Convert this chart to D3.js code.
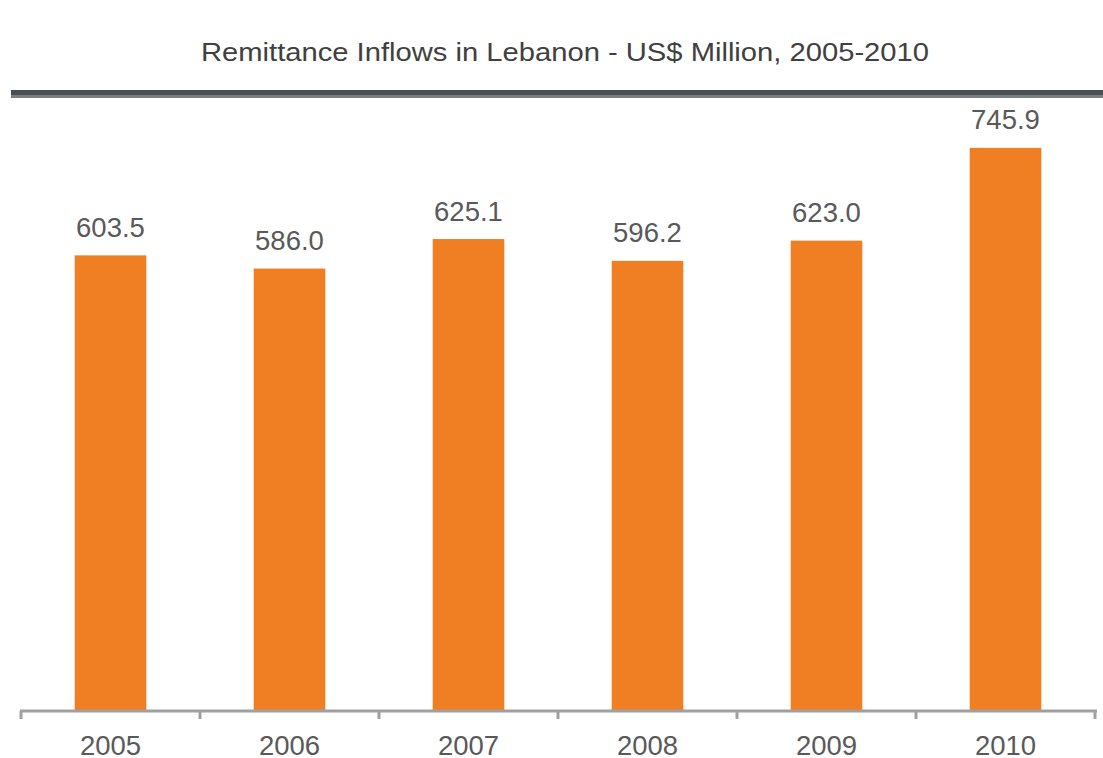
<!DOCTYPE html>
<html><head><meta charset="utf-8">
<script src="https://cdn.jsdelivr.net/npm/d3@7"></script>
<style>body{margin:0;background:#fff}svg{display:block}</style>
</head><body><svg id="c" width="1103" height="758"></svg>
<script>
const categories = ["2005","2006","2007","2008","2009","2010"];
const values = [603.5, 586.0, 625.1, 596.2, 623.0, 745.9];
const title = "Remittance Inflows in Lebanon  - US$ Million, 2005-2010";

const svg = d3.select("#c");
const font = "'Liberation Sans', Arial, sans-serif";

svg.append("text").attr("x", 565).attr("y", 61).attr("text-anchor","middle")
  .attr("font-family", font).attr("font-size", 25.5).attr("fill","#404040")
  .attr("textLength", 728).attr("lengthAdjust","spacingAndGlyphs")
  .text(title);

svg.append("rect").attr("x", 11).attr("y", 90).attr("width", 1092).attr("height", 5).attr("fill","#4a4f53");
svg.append("rect").attr("x", 11).attr("y", 95).attr("width", 1092).attr("height", 3).attr("fill","#7b7f82");

const x = d3.scaleBand().domain(categories).range([21, 1095]).paddingInner(0.6).paddingOuter(0.3);
const y = d3.scaleLinear().domain([0, 800]).range([711, 107]);

svg.selectAll("rect.bar").data(values).join("rect").attr("class","bar")
  .attr("x", (d,i) => x(categories[i])).attr("width", x.bandwidth())
  .attr("y", d => y(d)).attr("height", d => y(0) - y(d)).attr("fill", "#f07f24");

svg.selectAll("text.lbl").data(values).join("text").attr("class","lbl")
  .attr("x", (d,i) => x(categories[i]) + x.bandwidth()/2).attr("y", d => y(d) - 18.5)
  .attr("text-anchor","middle").attr("font-family", font).attr("font-size", 27.5).attr("fill","#595959")
  .text(d => d.toFixed(1));

const axis = d3.axisBottom(x).tickSize(0).tickPadding(0);
const g = svg.append("g").attr("transform","translate(0,711)").call(axis);
g.select(".domain").remove();
g.selectAll("text").attr("font-family", font).attr("font-size", 27.5).attr("fill","#595959").attr("dy", null).attr("y", 44);
g.append("line").attr("x1", 20).attr("x2", 1097).attr("y1", 0).attr("y2", 0).attr("stroke","#a0a0a0").attr("stroke-width", 3);
const step = x.step();
const bounds = d3.range(categories.length + 1).map(i => x.range()[0] + i * step);
g.selectAll("line.tk").data(bounds).join("line").attr("class","tk")
  .attr("x1", d => d).attr("x2", d => d).attr("y1", 0).attr("y2", 8)
  .attr("stroke","#a0a0a0").attr("stroke-width", 3);
</script></body></html>
